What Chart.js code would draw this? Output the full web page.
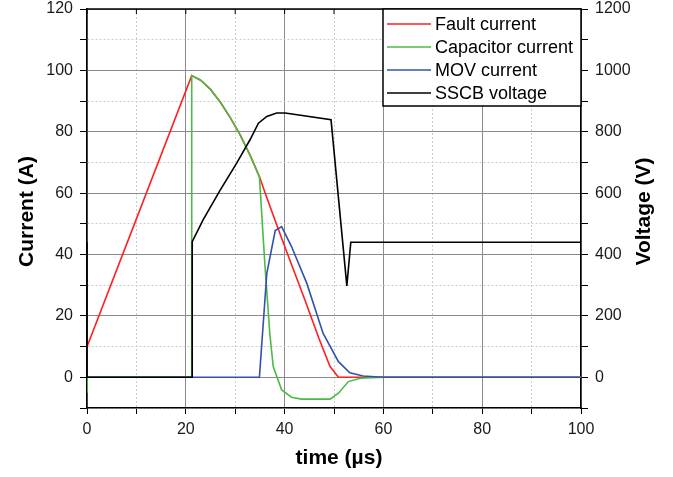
<!DOCTYPE html>
<html>
<head>
<meta charset="utf-8">
<script src="https://cdn.jsdelivr.net/npm/chart.js@4.4.1/dist/chart.umd.min.js"></script>
<style>
  html, body { margin: 0; padding: 0; background: #fff; }
  #wrap { width: 673px; height: 477px; }
</style>
</head>
<body>
<div id="wrap"><canvas id="chart" width="673" height="477"></canvas></div>
<script>
/* ============================================
   SSCB turn-off transient - currents and voltage
   ============================================ */

// Fault current (A)
const faultTime = [0, 21.2, 23, 25, 27, 29, 31, 33, 34.9, 36.4, 39.7, 44, 47, 49.2, 50.9, 60, 100];
const faultAmp  = [10, 98.3, 96.8, 93.8, 89.6, 84.6, 79, 72.4, 65.4, 58.5, 44, 25.7, 12.5, 3.5, 0, 0, 0];

// Capacitor current (A)
const capTime = [0, 0, 21.2, 21.2, 23, 25, 27, 29, 31, 33, 34.9, 36, 37, 37.7, 39.4, 41.4, 43.4, 47, 49.2, 50.9, 52.9, 55.3, 60, 100];
const capAmp  = [-5, 0, 0, 98.3, 96.8, 93.8, 89.6, 84.6, 79, 72.4, 65.4, 37, 14.3, 3.5, -4.1, -6.5, -7.1, -7.1, -7.1, -5.2, -1.4, -0.3, 0, 0];

// MOV current (A)
const movTime = [0, 34.9, 36.4, 38.1, 39.4, 41.4, 44.5, 47.8, 50.9, 53.2, 55.9, 60, 100];
const movAmp  = [0, 0, 33.9, 47.8, 49.1, 42.6, 30.6, 14.3, 5.1, 1.5, 0.4, 0, 0];

// SSCB voltage (V)
const sscbTime = [0, 0, 21.3, 21.3, 23.5, 26.9, 30.3, 33, 34.7, 36.4, 38.4, 40.1, 49.4, 52.6, 53.4, 100];
const sscbVolt = [440, 0, 0, 442, 513, 608, 698, 774, 828, 850, 861, 861, 839, 298, 440, 440];

const seriesNames = ['Fault current', 'Capacitor current', 'MOV current', 'SSCB voltage'];
const seriesColors = ['#ff1f1f', '#4cbb46', '#3350b0', '#000000'];

const FONT = '"Liberation Sans", Arial, Helvetica, sans-serif';

const toPoints = (xs, ys) => xs.map((x, i) => ({ x, y: ys[i] }));

// ============================================
// Frame, legend box and axis titles
// ============================================
const decorations = {
  id: 'decorations',
  afterDraw(chart) {
    const { ctx, chartArea: a, scales } = chart;
    ctx.save();

    // top edge with inward ticks
    ctx.strokeStyle = '#000';
    ctx.lineWidth = 1.5;
    ctx.beginPath();
    ctx.moveTo(a.left, a.top);
    ctx.lineTo(a.right, a.top);
    ctx.stroke();
    ctx.lineWidth = 1;
    scales.x.ticks.forEach(t => {
      const px = scales.x.getPixelForValue(t.value);
      ctx.beginPath();
      ctx.moveTo(px, a.top);
      ctx.lineTo(px, a.top + 5);
      ctx.stroke();
    });

    // legend box in the upper right corner
    const boxW = 198, boxH = 97, rowH = 23;
    const bx = a.right - boxW, by = a.top;
    ctx.fillStyle = '#fff';
    ctx.fillRect(bx, by, boxW, boxH);
    ctx.strokeStyle = '#000';
    ctx.lineWidth = 1.5;
    ctx.strokeRect(bx, by, boxW, boxH);
    ctx.font = '18px ' + FONT;
    ctx.textBaseline = 'middle';
    ctx.textAlign = 'left';
    seriesNames.forEach((name, i) => {
      const y = by + 15 + i * rowH;
      ctx.strokeStyle = seriesColors[i];
      ctx.lineWidth = 1.5;
      ctx.beginPath();
      ctx.moveTo(bx + 4, y);
      ctx.lineTo(bx + 48, y);
      ctx.stroke();
      ctx.fillStyle = '#000';
      ctx.fillText(name, bx + 52, y + 1);
    });

    // axis titles
    ctx.fillStyle = '#000';
    ctx.font = 'bold 21px ' + FONT;
    ctx.textAlign = 'center';
    ctx.textBaseline = 'middle';
    ctx.fillText('time (\u00b5s)', (a.left + a.right) / 2 + 5, 458);

    const midY = (a.top + a.bottom) / 2 + 3;
    ctx.save();
    ctx.translate(27, midY);
    ctx.rotate(-Math.PI / 2);
    ctx.fillText('Current (A)', 0, 0);
    ctx.restore();

    ctx.save();
    ctx.translate(644, midY);
    ctx.rotate(-Math.PI / 2);
    ctx.fillText('Voltage (V)', 0, 0);
    ctx.restore();

    ctx.restore();
  }
};

// ============================================
// Grid and tick helpers
// ============================================
const gridColor = (c) => (c.tick && c.tick.value % 20 === 0) ? '#8a8a8a' : '#cccccc';
const gridDash = (c) => (c.tick && c.tick.value % 20 !== 0) ? [2, 2] : [];
const tickFont = { family: FONT, size: 16 };

// fixed axis sizes, no extra label padding around the plot
const fixSize = (prop, size) => (s) => {
  s[prop] = size;
  s.paddingTop = 0;
  s.paddingBottom = 0;
  s.paddingLeft = 0;
  s.paddingRight = 0;
};

const makeDataset = (i, xs, ys, axis, order) => ({
  label: seriesNames[i],
  data: toPoints(xs, ys),
  borderColor: seriesColors[i],
  borderWidth: 1.6,
  pointRadius: 0,
  tension: 0,
  fill: false,
  yAxisID: axis,
  order
});

new Chart(document.getElementById('chart').getContext('2d'), {
  type: 'line',
  data: {
    datasets: [
      makeDataset(0, faultTime, faultAmp, 'y', 4),
      makeDataset(1, capTime, capAmp, 'y', 3),
      makeDataset(2, movTime, movAmp, 'y', 2),
      makeDataset(3, sscbTime, sscbVolt, 'y2', 1)
    ]
  },
  options: {
    responsive: false,
    animation: false,
    events: [],
    layout: { padding: { top: 9, right: 0, left: 0, bottom: 0 } },
    plugins: {
      legend: { display: false },
      tooltip: { enabled: false }
    },
    scales: {
      x: {
        type: 'linear',
        min: 0,
        max: 100,
        afterFit: fixSize('height', 69),
        ticks: {
          stepSize: 10,
          autoSkip: false,
          maxRotation: 0,
          padding: 6,
          color: '#1a1a1a',
          font: tickFont,
          callback: (v) => v % 20 === 0 ? v : ''
        },
        grid: { color: gridColor, tickColor: '#000', tickLength: 6, lineWidth: 1 },
        border: { color: '#000', width: 1.5, dash: gridDash }
      },
      y: {
        type: 'linear',
        position: 'left',
        min: -10,
        max: 120,
        afterFit: fixSize('width', 87),
        ticks: {
          stepSize: 10,
          autoSkip: false,
          padding: 7,
          color: '#1a1a1a',
          font: tickFont,
          callback: (v) => v % 20 === 0 ? v : ''
        },
        grid: { color: gridColor, tickColor: '#000', tickLength: 7, lineWidth: 1 },
        border: { color: '#000', width: 1.5, dash: gridDash }
      },
      y2: {
        type: 'linear',
        position: 'right',
        min: -100,
        max: 1200,
        afterFit: fixSize('width', 92),
        ticks: {
          stepSize: 100,
          autoSkip: false,
          padding: 7,
          color: '#1a1a1a',
          font: tickFont,
          callback: (v) => v % 200 === 0 ? v : ''
        },
        grid: { drawOnChartArea: false, tickColor: '#000', tickLength: 7 },
        border: { color: '#000', width: 1.5 }
      }
    }
  },
  plugins: [decorations]
});
</script>
</body>
</html>
